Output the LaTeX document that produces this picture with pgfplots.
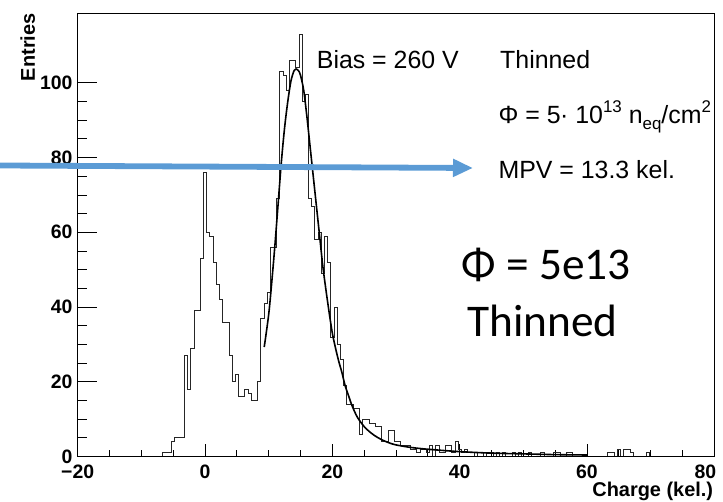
\documentclass[border=0pt]{standalone}
\usepackage{pgfplots}
\pgfplotsset{compat=1.18}
\usepackage{fontspec}
\setmainfont{Liberation Sans}
\newfontfamily\calibri{Carlito}
\usetikzlibrary{arrows.meta}
\definecolor{arrowblue}{RGB}{91,155,213}
\pgfplotsset{rootframe/.style={
  at={(77.7bp,45.5bp)}, anchor=south west,
  scale only axis, width=636.6bp, height=443.2bp,
  xmin=-20, xmax=80, ymin=0, ymax=118.6,
  axis line style={line width=0.8bp},
  tick align=inside,
  xtick pos=bottom, ytick pos=left,
  tick style={black, line width=0.8bp},
  /pgf/number format/assume math mode=true,
  ticklabel style={font=\fontsize{19.5}{20}\selectfont\bfseries, inner sep=0pt},
  label style={font=\fontsize{20}{22}\selectfont\bfseries, inner sep=0pt},
}}
\begin{document}
\begin{tikzpicture}[x=1bp,y=1bp]
\useasboundingbox (0,0) rectangle (723,502);
% axis with the x ticks, the data and the x title
\begin{axis}[rootframe,
  xtick={-20,0,20,40,60,80},
  xticklabels={−20,0,20,40,60,\kern-18bp 80},
  minor x tick num=3,
  ytick=\empty,
  major tick length=12.7bp, minor tick length=6.7bp,
  xticklabel style={yshift=-8bp},
  xlabel={Charge (kel.)},
  xlabel style={at={(axis description cs:1,0)}, anchor=base east, yshift=-40.5bp, xshift=-1bp},
]
\addplot[const plot, black!85, line width=0.7bp] coordinates {
(-7.25,0) (-6.75,1) (-5.25,4) (-4.75,5) (-3.25,27) (-2.75,18) (-2.25,29) (-1.75,39) (-0.75,53) (-0.25,76) (0.25,60) (0.75,59) (1.25,52) (1.75,46) (2.25,42) (2.75,36) (3.75,27) (4.25,20) (4.75,22) (5.25,16) (6.25,18) (6.75,17) (7.25,15) (8.25,20) (8.75,37) (9.25,41) (9.75,44) (10.25,56) (11.25,69) (11.75,103) (12.25,102) (12.75,98) (13.25,106) (13.75,106) (14.25,104) (14.75,113) (15.25,95) (15.75,97) (16.25,69) (16.75,67) (17.25,58) (17.75,60) (18.25,49) (18.75,59) (19.25,52) (19.75,32) (20.25,40) (20.75,30) (21.25,26) (21.75,19) (22.25,14) (23.25,13) (24.25,6) (24.75,10) (25.75,9) (26.75,8) (27.75,4) (28.75,7) (29.75,4) (30.75,3) (32.25,2) (33.25,1) (33.75,2) (34.75,1) (35.25,3) (35.75,0) (36.25,3) (36.75,1) (37.75,3) (38.75,1) (39.25,4) (39.75,2) (40.25,1) (40.75,2) (41.25,1) (42.25,0) (42.75,1) (43.75,0) (44.25,1) (45.25,0) (45.75,1) (46.25,0) (46.75,1) (47.25,0) (48.25,1) (48.75,0) (49.25,1) (49.75,0) (50.75,1) (51.25,0) (52.75,1) (53.25,0) (54.75,1) (55.75,0) (56.75,1) (57.75,0) (63.25,1) (64.25,0) (64.75,2) (65.25,0) (65.75,2) (66.75,1) (67.25,0) (69.25,1) (69.75,0) (80,0)
};
\addplot[smooth, black, line width=1.6bp] coordinates {
(9.3,29.3) (10,38) (10.5,47) (11,57) (11.5,68) (12,79) (12.5,88) (13,95) (13.5,100.5) (14,103.3) (14.3,103.7) (14.7,103.2) (15,102) (15.5,98) (16,91) (16.5,83) (17,75) (17.5,67) (18,59) (18.5,51) (19,44.5) (19.5,38.5) (20,33) (20.5,29) (21,25.5) (21.5,22.5) (22,19) (22.5,16.5) (23,14) (23.5,12) (24,10.3) (25,8) (26,6.4) (27,5.2) (28,4.3) (29,3.6) (30,3.1) (32,2.5) (34,2.1) (36,1.8) (40,1.3) (45,0.9) (50,0.7) (55,0.5) (60,0.4)
};
\end{axis}
% axis with the y ticks and the y title
\begin{axis}[rootframe,
  xtick=\empty,
  ytick={0,20,40,60,80,100},
  minor y tick num=3,
  major tick length=19bp, minor tick length=9.7bp,
  yticklabel style={xshift=-5bp},
  ylabel={Entries},
  ylabel style={at={(axis description cs:-0.0671,1)}, anchor=base east},
]
\end{axis}
\draw[arrowblue, line width=5.8bp, -{Triangle[length=20bp,width=17bp]}] (0,336.5) -- (473,334);
\begin{scope}[every node/.style={inner sep=0pt, anchor=base west, font=\fontsize{25}{27}\selectfont}]
\node at (316.7,433.7) {Bias = 260 V};
\node at (500,433.7) {Thinned};
\node at (498.3,378.7) {Φ = 5\kern-0.5bp· 10\raisebox{0.45em}{\fontsize{17}{17}\selectfont 13} n\raisebox{-0.25em}{\fontsize{17}{17}\selectfont eq}/cm\raisebox{0.45em}{\fontsize{17}{17}\selectfont 2}};
\node at (498.3,323.7) {MPV = 13.3 kel.};
\node[font=\calibri\fontsize{45.5}{47}\selectfont] at (461.7,222) {Φ = 5e13};
\node[font=\calibri\fontsize{45.5}{47}\selectfont] at (467,165.3) {Thinned};
\end{scope}
\end{tikzpicture}
\end{document}
